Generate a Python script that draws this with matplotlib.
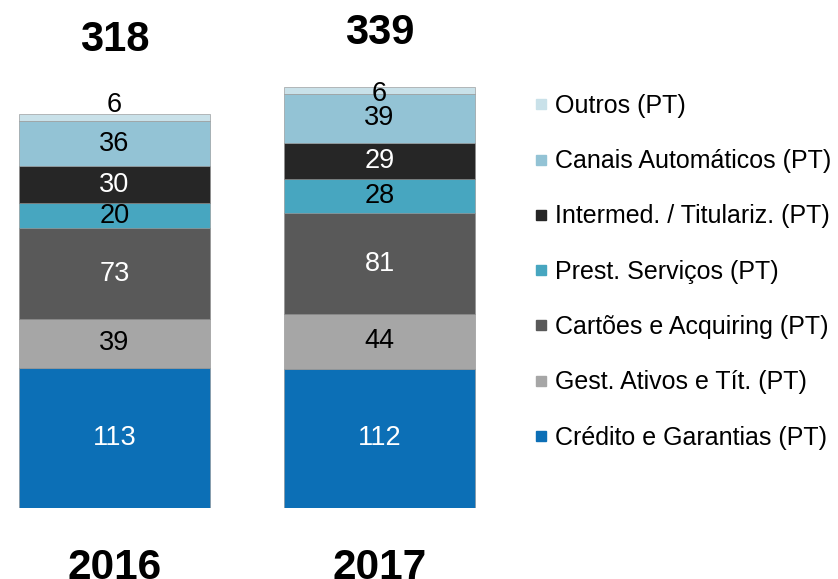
import matplotlib
matplotlib.use("Agg")
import matplotlib.pyplot as plt
from matplotlib.lines import Line2D

plt.rcParams['font.family'] = ['Liberation Sans', 'DejaVu Sans']

years = ["2016", "2017"]
categories = ["Crédito e Garantias (PT)", "Gest. Ativos e Tít. (PT)",
              "Cartões e Acquiring (PT)", "Prest. Serviços (PT)",
              "Intermed. / Titulariz. (PT)", "Canais Automáticos (PT)",
              "Outros (PT)"]
credito = [113, 112]
gest = [39, 44]
cartoes = [73, 81]
prest = [20, 28]
intermed = [30, 29]
canais = [36, 39]
outros = [6, 6]
totals = [318, 339]

series = [credito, gest, cartoes, prest, intermed, canais, outros]
colors = ["#0c6fb6", "#a6a6a6", "#595959", "#47a6c0", "#262626", "#93c3d5", "#c9e1e9"]
text_colors = ["white", "black", "white", "black", "white", "black", "black"]

W, H = 838, 579
fig = plt.figure(figsize=(W / 100, H / 100), dpi=100)
ax_w, ax_bottom_px, ax_h = 500, 508, 508
ax = fig.add_axes([0, (H - ax_bottom_px) / H, ax_w / W, ax_h / H])
ax.set_xlim(-114.5 / 265, (500 - 114.5) / 265)
ax.set_ylim(0, 508 / 1.243)
ax.axis("off")

x = [0, 1]
bottoms = [0, 0]
for vals, col, tc, name in zip(series, colors, text_colors, categories):
    ax.bar(x, vals, width=0.718, bottom=bottoms, color=col,
           edgecolor="#8c8c8c", linewidth=0.4, label=name)
    for i in range(2):
        yc = bottoms[i] + vals[i] / 2
        if name == "Outros (PT)":
            yc += [10.6, -3.2][i]
        ax.text(x[i], yc, str(vals[i]), ha="center", va="center",
                fontsize=19.5, color=tc)
    bottoms = [b + v for b, v in zip(bottoms, vals)]

total_offsets = [58.5, 43.5]
for i in range(2):
    ax.text(x[i], totals[i] + total_offsets[i], str(totals[i]), ha="center",
            va="center", fontsize=30, fontweight="bold", color="black")
    ax.text(x[i], -48.5, years[i], ha="center", va="center", fontsize=30.5,
            fontweight="bold", color="black", clip_on=False)

handles = [Line2D([], [], marker="s", linestyle="none", markersize=7.5,
                  markerfacecolor=c, markeredgecolor=c) for c in colors]
leg = fig.legend(handles[::-1], categories[::-1], loc="upper left",
                 bbox_to_anchor=(534 / W, 1 - 94 / H), frameon=False,
                 fontsize=18, labelspacing=1.25, handlelength=0.55,
                 handletextpad=0.3, borderpad=0, borderaxespad=0)

fig.savefig("out.png", dpi=100)
